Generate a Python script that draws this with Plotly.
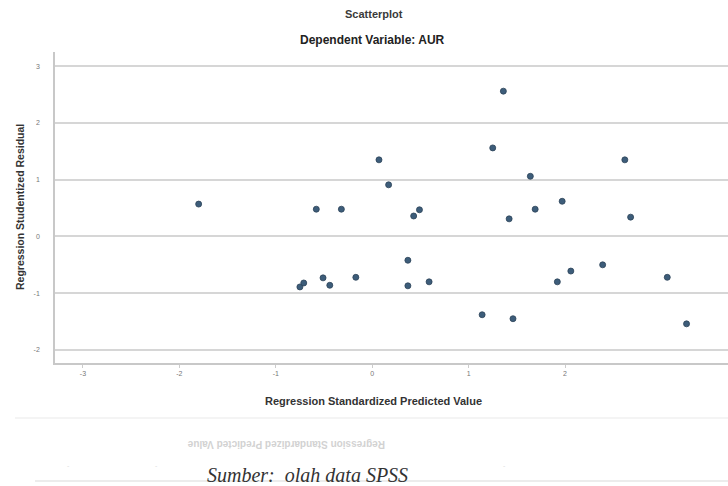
import plotly.graph_objects as go

# Regression standardized predicted value (x) and studentized residual (y)
pred = [-1.80, -0.58, -0.32, 0.07, 0.17, 0.43, 0.49, 0.37, -0.75, -0.71,
        -0.51, -0.44, -0.17, 0.37, 0.59, 1.25, 1.36, 1.64, 1.97, 1.69,
        1.42, 1.92, 2.06, 2.39, 3.06, 1.14, 1.46, 3.26, 2.62, 2.68]
resid = [0.57, 0.48, 0.48, 1.35, 0.91, 0.36, 0.47, -0.42, -0.89, -0.82,
         -0.73, -0.86, -0.72, -0.87, -0.80, 1.56, 2.56, 1.06, 0.62, 0.48,
         0.31, -0.80, -0.61, -0.50, -0.72, -1.38, -1.45, -1.54, 1.35, 0.34]

x_ticks = [-3, -2, -1, 0, 1, 2]
y_ticks = [3, 2, 1, 0, -1, -2]

W, H = 728, 486
def py(p):
    return 1 - p / H

fig = go.Figure()
fig.add_trace(go.Scatter(
    x=pred, y=resid, mode="markers",
    marker=dict(size=6, color="#3d5d7a", line=dict(color="#2c4258", width=0.8)),
    showlegend=False, hoverinfo="x+y"))

fig.update_layout(
    width=W, height=H,
    margin=dict(l=0, r=0, t=0, b=0),
    paper_bgcolor="white", plot_bgcolor="white",
    font=dict(family="Liberation Sans, Arial, sans-serif", color="#333"),
    xaxis=dict(domain=[55 / W, 1.0], range=[-3.29, 3.69],
               tickvals=x_ticks, ticktext=[str(t) for t in x_ticks],
               showgrid=False, zeroline=False, showline=True,
               linecolor="#c8c8c8", linewidth=1.5,
               ticks="outside", ticklen=3, tickcolor="#ccc",
               tickfont=dict(size=7, color="#777")),
    yaxis=dict(domain=[py(363), py(52)], range=[-2.23, 3.25],
               tickvals=y_ticks, ticktext=[str(t) for t in y_ticks],
               showgrid=True, gridcolor="#d6d6d6", gridwidth=1.5,
               zeroline=False, showline=True,
               linecolor="#c8c8c8", linewidth=1.5,
               ticks="", tickfont=dict(size=7, color="#777"),
               ticklabelstandoff=12),
)

ann = [
    dict(text="<b>Scatterplot</b>", x=374 / W, y=py(14), size=11, color="#3a3a3a"),
    dict(text="<b>Dependent Variable: AUR</b>", x=373 / W, y=py(40), size=12, color="#222"),
    dict(text="<b>Regression Standardized Predicted Value</b>", x=374 / W, y=py(401), size=11, color="#333"),
]
for a in ann:
    fig.add_annotation(text=a["text"], x=a["x"], y=a["y"], xref="paper", yref="paper",
                       showarrow=False, xanchor="center", yanchor="middle",
                       font=dict(size=a["size"], color=a["color"]))

fig.add_annotation(text="<b>Regression Studentized Residual</b>", x=20 / W, y=py(207),
                   xref="paper", yref="paper", showarrow=False, textangle=-90,
                   xanchor="center", yanchor="middle", font=dict(size=10.5, color="#333"))

# faint reflection below the chart
fig.add_annotation(text="<b>Regression Standardized Predicted Value</b>", x=286 / W, y=py(445),
                   xref="paper", yref="paper", showarrow=False, textangle=180,
                   xanchor="center", yanchor="middle", font=dict(size=10, color="#d2d2d2"))
fig.add_shape(type="line", xref="paper", yref="paper", x0=15 / W, x1=1, y0=py(418), y1=py(418),
              line=dict(color="#f0f0f0", width=1.5))
fig.add_shape(type="line", xref="paper", yref="paper", x0=35 / W, x1=1, y0=py(481), y1=py(481),
              line=dict(color="#ececec", width=2))
for xp in [65, 153, 508]:
    fig.add_annotation(text="-", x=xp / W, y=py(471), xref="paper", yref="paper",
                       showarrow=False, font=dict(size=7, color="#dddddd"))

fig.add_annotation(text="<i>Sumber:  olah data SPSS</i>", x=307 / W, y=py(475),
                   xref="paper", yref="paper", showarrow=False,
                   xanchor="center", yanchor="middle",
                   font=dict(family="Liberation Serif, Times New Roman, serif", size=20, color="#333"))

fig.write_html("out.html", config={"displayModeBar": False},
               post_script="document.body.style.margin='0';document.body.style.overflow='hidden';")
